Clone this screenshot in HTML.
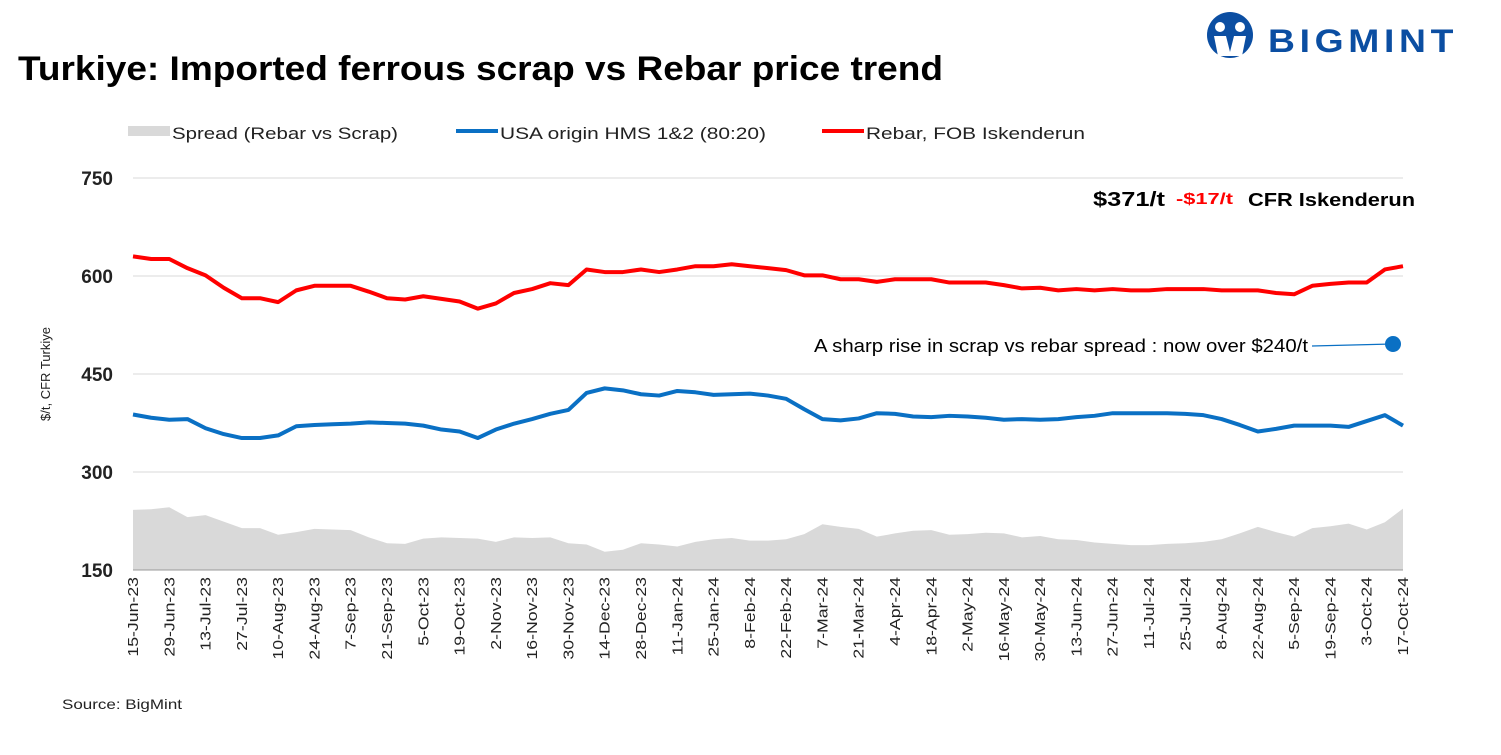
<!DOCTYPE html>
<html><head><meta charset="utf-8"><style>
body{margin:0;background:#fff;width:1501px;height:750px;overflow:hidden;font-family:"Liberation Sans",sans-serif}
</style></head><body>
<svg id="c" width="1501" height="750" xmlns="http://www.w3.org/2000/svg">
<text x="18" y="80" font-size="34" font-weight="bold" fill="#000" textLength="925" lengthAdjust="spacingAndGlyphs">Turkiye: Imported ferrous scrap vs Rebar price trend</text>
<g>
<circle cx="1230" cy="35" r="23" fill="#0b4ea2"/>
<circle cx="1220" cy="27" r="5" fill="#fff"/><circle cx="1240" cy="27" r="5" fill="#fff"/>
<path d="M1214 36 L1226 36 L1230 52 L1234 36 L1246 36 L1242 56 L1218 56 Z" fill="#fff"/>
<text x="1268" y="52" font-size="32" font-weight="bold" fill="#0b4ea2" textLength="190" lengthAdjust="spacingAndGlyphs" letter-spacing="4">BIGMINT</text>
</g>
<g>
<rect x="128" y="126" width="42" height="10" fill="#d9d9d9"/>
<text x="172" y="139" font-size="17" fill="#222" textLength="226" lengthAdjust="spacingAndGlyphs">Spread (Rebar vs Scrap)</text>
<line x1="456" y1="131" x2="498" y2="131" stroke="#0a70c4" stroke-width="4"/>
<text x="500" y="139" font-size="17" fill="#222" textLength="266" lengthAdjust="spacingAndGlyphs">USA origin HMS 1&amp;2 (80:20)</text>
<line x1="822" y1="131" x2="864" y2="131" stroke="#f00" stroke-width="4"/>
<text x="866" y="139" font-size="17" fill="#222" textLength="219" lengthAdjust="spacingAndGlyphs">Rebar, FOB Iskenderun</text>
</g>
<text transform="translate(50,374) rotate(-90)" text-anchor="middle" font-size="13" fill="#222">$/t, CFR Turkiye</text>
<g id="yaxis"></g><g id="plot"></g><g id="xaxis"></g>
<text x="1093" y="206" font-size="20" font-weight="bold" fill="#000" textLength="72" lengthAdjust="spacingAndGlyphs">$371/t</text>
<text x="1176" y="204" font-size="16" font-weight="bold" fill="#f00" textLength="57" lengthAdjust="spacingAndGlyphs">-$17/t</text>
<text x="1248" y="206" font-size="18" font-weight="bold" fill="#000" textLength="167" lengthAdjust="spacingAndGlyphs">CFR Iskenderun</text>
<text x="814" y="352" font-size="18" fill="#000" textLength="494" lengthAdjust="spacingAndGlyphs">A sharp rise in scrap vs rebar spread : now over $240/t</text>
<line x1="1312" y1="346" x2="1392" y2="344" stroke="#0a70c4" stroke-width="1.2"/>
<circle cx="1393" cy="344" r="8" fill="#0a70c4"/>
<text x="62" y="709" font-size="14" fill="#222" textLength="120" lengthAdjust="spacingAndGlyphs">Source: BigMint</text>
</svg>
<script>
const xLabels=["15-Jun-23","29-Jun-23","13-Jul-23","27-Jul-23","10-Aug-23","24-Aug-23","7-Sep-23","21-Sep-23","5-Oct-23","19-Oct-23","2-Nov-23","16-Nov-23","30-Nov-23","14-Dec-23","28-Dec-23","11-Jan-24","25-Jan-24","8-Feb-24","22-Feb-24","7-Mar-24","21-Mar-24","4-Apr-24","18-Apr-24","2-May-24","16-May-24","30-May-24","13-Jun-24","27-Jun-24","11-Jul-24","25-Jul-24","8-Aug-24","22-Aug-24","5-Sep-24","19-Sep-24","3-Oct-24","17-Oct-24"];
const yTicks=[150,300,450,600,750];
const rebar=[630,626,626,612,601,582,566,566,560,578,585,585,585,576,566,564,569,565,561,550,558,574,580,589,586,610,606,606,610,606,610,615,615,618,615,612,609,601,601,595,595,591,595,595,595,590,590,590,586,581,582,578,580,578,580,578,578,580,580,580,578,578,578,574,572,585,588,590,590,610,615];
const scrap=[388,383,380,381,367,358,352,352,356,370,372,373,374,376,375,374,371,365,362,352,365,374,381,389,395,421,428,425,419,417,424,422,418,419,420,417,412,396,381,379,382,390,389,385,384,386,385,383,380,381,380,381,384,386,390,390,390,390,389,387,381,372,362,366,371,371,371,369,378,387,371];
const NS="http://www.w3.org/2000/svg";
const X0=133,X1=1403,Y0=570,Y1=178,VMIN=150,VMAX=750;
const n=rebar.length;
const xs=i=>X0+(X1-X0)*i/(n-1);
const ys=v=>Y0-(v-VMIN)*(Y0-Y1)/(VMAX-VMIN);
function mk(tag,attrs,parent){const e=document.createElementNS(NS,tag);for(const k in attrs)e.setAttribute(k,attrs[k]);document.getElementById(parent).appendChild(e);return e;}
yTicks.forEach(t=>{
  const g=mk('line',{x1:X0,x2:X1,y1:ys(t),y2:ys(t),stroke:t===150?'#bbb':'#d9d9d9','stroke-width':1},'yaxis');
  
  
  const l=mk('text',{x:113,y:ys(t)+7,'text-anchor':'end','font-size':19,'font-weight':'bold',fill:'#222'},'yaxis');
  l.textContent=t;
  
  
});
let d='M'+xs(0)+','+Y0;
for(let i=0;i<n;i++){d+=' L'+xs(i)+','+ys(rebar[i]-scrap[i]);}
d+=' L'+xs(n-1)+','+Y0+' Z';
const area=mk('path',{d:d,fill:'#d9d9d9'},'plot');


function line(arr,color,name){
  const p=mk('polyline',{points:arr.map((v,i)=>xs(i)+','+ys(v)).join(' '),fill:'none',stroke:color,'stroke-width':4,'stroke-linejoin':'round'},'plot');
  
  
}
line(scrap,'#0a70c4','scrap-line');
line(rebar,'#f00','rebar-line');
mk('line',{x1:X0,x2:X1,y1:Y0,y2:Y0,stroke:'#999'},'xaxis');
xLabels.forEach((s,k)=>{
  const x=xs(k*2);
  const t=mk('text',{transform:'translate('+(x+5)+','+(Y0+7)+') rotate(-90) scale(1.18,1)','text-anchor':'end','font-size':15,fill:'#222'},'xaxis');
  t.textContent=s;
  
  
});
</script>
</body></html>
